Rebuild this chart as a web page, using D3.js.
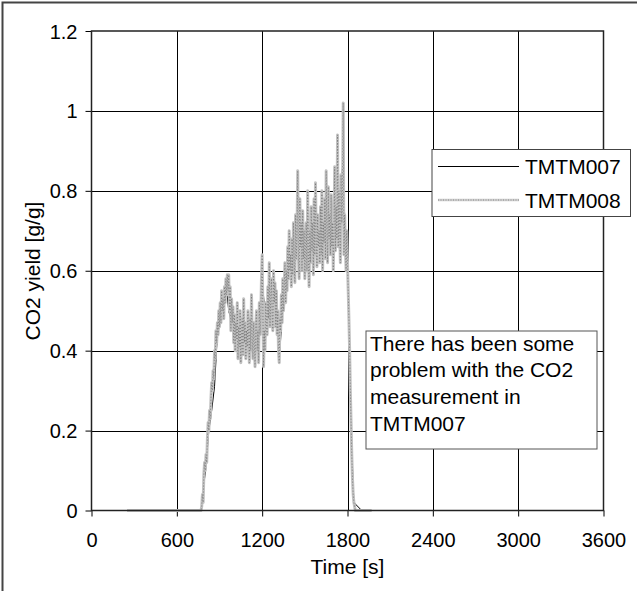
<!DOCTYPE html>
<html>
<head>
<meta charset="utf-8">
<script src="https://cdn.jsdelivr.net/npm/d3@7"></script>
<style>
  html, body { margin: 0; padding: 0; background: #fff; }
  svg { display: block; }
  text { font-family: "Liberation Sans", Arial, sans-serif; fill: #000; }
</style>
</head>
<body>
<svg id="chart" width="637" height="591"></svg>
<script>
// ---- data ----
const xTicks = [0, 600, 1200, 1800, 2400, 3000, 3600];
const yTicks = [0, 0.2, 0.4, 0.6, 0.8, 1.0, 1.2];
const yTickLabels = ["0", "0.2", "0.4", "0.6", "0.8", "1", "1.2"];
const seriesNames = ["TMTM007", "TMTM008"];

const time008 = [250, 400, 600,
  770, 775, 780, 785, 790, 795, 800, 805, 810, 815, 820, 825, 830, 835, 840, 845, 850, 855, 860, 865, 870, 875, 880, 885, 890, 895,
  900, 905, 910, 915, 920, 925, 930, 935, 940, 945, 950, 955, 960, 965, 970, 975, 980, 985, 990, 995, 1000,
  1005, 1010, 1015, 1020, 1025, 1030, 1035, 1040, 1045, 1050, 1055, 1060, 1065, 1070, 1075, 1080, 1085, 1090, 1095, 1100,
  1105, 1110, 1115, 1120, 1125, 1130, 1135, 1140, 1145, 1150, 1155, 1160, 1165, 1170, 1175, 1180, 1185, 1190, 1195, 1200,
  1205, 1210, 1215, 1220, 1225, 1230, 1235, 1240, 1245, 1250, 1255, 1260, 1265, 1270, 1275, 1280, 1285, 1290, 1295, 1300,
  1305, 1310, 1315, 1320, 1325, 1330, 1335, 1340, 1345, 1350, 1355, 1360, 1365, 1370, 1375, 1380, 1385, 1390, 1395, 1400,
  1405, 1410, 1415, 1420, 1425, 1430, 1435, 1440, 1445, 1450, 1455, 1460, 1465, 1470, 1475, 1480, 1485, 1490, 1495, 1500,
  1505, 1510, 1515, 1520, 1525, 1530, 1535, 1540, 1545, 1550, 1555, 1560, 1565, 1570, 1575, 1580, 1585, 1590, 1595, 1600,
  1605, 1610, 1615, 1620, 1625, 1630, 1635, 1640, 1645, 1650, 1655, 1660, 1665, 1670, 1675, 1680, 1685, 1690, 1695, 1700,
  1705, 1710, 1715, 1720, 1725, 1730, 1735, 1740, 1745, 1750, 1755, 1760, 1765, 1770, 1775, 1780, 1785, 1790, 1795, 1800,
  1805, 1810, 1815, 1820, 1825, 1830, 1835, 1840, 1845, 1850, 1855, 1860,
  1970];
const yield008 = [0, 0, 0,
  0, 0.01, 0.04, 0.02, 0.09, 0.12, 0.10, 0.14, 0.12, 0.18, 0.22, 0.20, 0.25, 0.23, 0.28, 0.32, 0.30, 0.35, 0.33, 0.40, 0.38, 0.45, 0.42, 0.47, 0.44, 0.50,
  0.46, 0.52, 0.47, 0.55, 0.50, 0.53, 0.48, 0.56, 0.52, 0.58, 0.54, 0.59, 0.55, 0.59, 0.50, 0.56, 0.45, 0.53, 0.47, 0.51, 0.42,
  0.49, 0.40, 0.47, 0.43, 0.52, 0.38, 0.46, 0.41, 0.50, 0.37, 0.44, 0.48, 0.39, 0.53, 0.42, 0.47, 0.38, 0.45, 0.41, 0.50,
  0.43, 0.37, 0.48, 0.40, 0.54, 0.44, 0.38, 0.47, 0.42, 0.36, 0.46, 0.50, 0.40, 0.45, 0.37, 0.52, 0.44, 0.48, 0.58, 0.64,
  0.50, 0.36, 0.45, 0.40, 0.52, 0.47, 0.44, 0.56, 0.48, 0.62, 0.46, 0.53, 0.58, 0.49, 0.45, 0.60, 0.52, 0.57, 0.46, 0.55,
  0.44, 0.50, 0.40, 0.37, 0.48, 0.45, 0.54, 0.47, 0.58, 0.50, 0.56, 0.62, 0.52, 0.60, 0.55, 0.66, 0.58, 0.70, 0.60, 0.64,
  0.56, 0.68, 0.59, 0.72, 0.62, 0.57, 0.74, 0.63, 0.69, 0.85, 0.64, 0.58, 0.78, 0.66, 0.72, 0.60, 0.75, 0.63, 0.70, 0.58,
  0.66, 0.72, 0.60, 0.80, 0.64, 0.56, 0.70, 0.62, 0.76, 0.65, 0.72, 0.59, 0.78, 0.64, 0.82, 0.68, 0.61, 0.74, 0.66, 0.70,
  0.62, 0.76, 0.64, 0.80, 0.60, 0.72, 0.67, 0.78, 0.63, 0.85, 0.70, 0.62, 0.81, 0.68, 0.74, 0.64, 0.79, 0.66, 0.72, 0.60,
  0.70, 0.86, 0.65, 0.76, 0.68, 0.94, 0.66, 0.80, 0.70, 0.62, 0.84, 0.72, 0.78, 1.02, 0.64, 0.74, 0.66, 0.60, 0.70, 0.62,
  0.55, 0.48, 0.40, 0.30, 0.22, 0.14, 0.08, 0.04, 0.02, 0.01, 0, 0,
  0];

const time007 = [0, 250, 770, 785, 805, 825, 845, 865, 885, 905, 925, 945, 965, 985, 1005, 1025, 1045, 1065, 1085, 1105, 1125, 1145, 1165, 1185, 1205, 1225, 1245, 1265, 1285, 1305, 1325, 1345, 1365, 1385, 1405, 1425, 1445, 1465, 1485, 1505, 1525, 1545, 1565, 1585, 1605, 1625, 1645, 1665, 1685, 1705, 1725, 1745, 1765, 1785, 1805, 1825, 1845, 1900];
const yield007 = [0, 0, 0, 0.05, 0.11, 0.20, 0.25, 0.31, 0.44, 0.47, 0.50, 0.57, 0.50, 0.47, 0.44, 0.45, 0.46, 0.42, 0.46, 0.43, 0.49, 0.42, 0.42, 0.46, 0.56, 0.46, 0.55, 0.54, 0.53, 0.49, 0.40, 0.52, 0.55, 0.62, 0.61, 0.65, 0.73, 0.69, 0.68, 0.66, 0.72, 0.64, 0.69, 0.72, 0.70, 0.72, 0.75, 0.71, 0.71, 0.75, 0.80, 0.76, 0.86, 0.70, 0.56, 0.20, 0.02, 0];

const noteLines = ["There has been some", "problem with the CO2", "measurement in", "TMTM007"];

// ---- layout ----
const svg = d3.select("#chart");
const FS = 20;   // tick labels
const FT = 21;   // titles, legend, note
const x = d3.scaleLinear().domain([0, 3600]).range([91.5, 603.5]);
const y = d3.scaleLinear().domain([0, 1.2]).range([510.5, 31]);

// outer frame
svg.append("path")
  .attr("d", "M2.5,591 L2.5,2.5 L637,2.5")
  .attr("fill", "none").attr("stroke", "#444").attr("stroke-width", 2);

// gridlines
const g = svg.append("g");
g.selectAll("line.vg").data(xTicks.slice(1, -1)).join("line")
  .attr("x1", d => Math.round(x(d)) + 0.5).attr("x2", d => Math.round(x(d)) + 0.5)
  .attr("y1", y(1.2)).attr("y2", y(0))
  .attr("stroke", "#000").attr("stroke-width", 1);
g.selectAll("line.hg").data(yTicks.slice(1, -1)).join("line")
  .attr("y1", d => Math.round(y(d)) + 0.5).attr("y2", d => Math.round(y(d)) + 0.5)
  .attr("x1", x(0)).attr("x2", x(3600))
  .attr("stroke", "#000").attr("stroke-width", 1);

// axes
const xAxis = d3.axisBottom(x).tickValues(xTicks).tickSize(6).tickSizeOuter(0).tickFormat(d3.format("d"));
const yAxis = d3.axisLeft(y).tickValues(yTicks).tickSize(6).tickSizeOuter(0)
  .tickFormat((d, i) => yTickLabels[i]);

const gx = svg.append("g").attr("transform", `translate(0,${y(0)})`).call(xAxis);
gx.select(".domain").remove();
gx.selectAll("line").attr("stroke", "#000");
gx.selectAll("text").attr("font-size", FS).attr("dy", null).attr("y", 36)
  .attr("font-family", "Liberation Sans, Arial, sans-serif");

const gy = svg.append("g").attr("transform", `translate(${x(0)},0)`).call(yAxis);
gy.select(".domain").remove();
gy.selectAll("line").attr("stroke", "#000");
gy.selectAll("text").attr("font-size", FS).attr("x", -14).attr("dy", "0.35em")
  .attr("font-family", "Liberation Sans, Arial, sans-serif");

// series
const line = d3.line().x(d => x(d[0])).y(d => y(d[1]));
const n7 = Math.min(time007.length, yield007.length);
const n8 = Math.min(time008.length, yield008.length);
const d007 = time007.slice(0, n7).map((t, i) => [t, yield007[i]]);
const d008 = time008.slice(0, n8).map((t, i) => [t, yield008[i]]);

svg.append("path").datum(d007).attr("d", line)
  .attr("fill", "none").attr("stroke", "#000").attr("stroke-width", 1);
svg.append("path").datum(d008).attr("d", line)
  .attr("fill", "none").attr("stroke", "#c2c2c2").attr("stroke-width", 3)
  .attr("stroke-linejoin", "round");
svg.append("path").datum(d008).attr("d", line)
  .attr("fill", "none").attr("stroke", "#7a7a7a").attr("stroke-width", 1)
  .attr("stroke-dasharray", "1,2");

// plot border
svg.append("rect")
  .attr("x", x(0)).attr("y", y(1.2))
  .attr("width", x(3600) - x(0)).attr("height", y(0) - y(1.2))
  .attr("fill", "none").attr("stroke", "#222").attr("stroke-width", 1.5);

// axis titles
svg.append("text").attr("x", 347.5).attr("y", 574).attr("text-anchor", "middle")
  .attr("font-size", FT).text("Time [s]");
svg.append("text").attr("transform", "translate(40,271) rotate(-90)")
  .attr("text-anchor", "middle").attr("font-size", FT).text("CO2 yield [g/g]");

// legend
const lg = svg.append("g");
lg.append("rect").attr("x", 432).attr("y", 149.5).attr("width", 198.5).attr("height", 67)
  .attr("fill", "#fff").attr("stroke", "#444").attr("stroke-width", 1);
lg.append("line").attr("x1", 438).attr("x2", 519).attr("y1", 166.5).attr("y2", 166.5)
  .attr("stroke", "#000").attr("stroke-width", 1);
lg.append("line").attr("x1", 438).attr("x2", 519).attr("y1", 200).attr("y2", 200)
  .attr("stroke", "#cfcfcf").attr("stroke-width", 2.5);
lg.append("line").attr("x1", 438).attr("x2", 519).attr("y1", 200).attr("y2", 200)
  .attr("stroke", "#8a8a8a").attr("stroke-width", 1).attr("stroke-dasharray", "1,1.5");
lg.selectAll("text.leg").data(seriesNames).join("text")
  .attr("x", 525).attr("y", (d, i) => 174 + i * 33.5)
  .attr("font-size", FT).text(d => d);

// annotation
svg.append("rect").attr("x", 366).attr("y", 331).attr("width", 231).attr("height", 118)
  .attr("fill", "#fff").attr("stroke", "#555").attr("stroke-width", 1);
svg.selectAll("text.note").data(noteLines).join("text")
  .attr("x", 370).attr("y", (d, i) => 350.5 + i * 26.7)
  .attr("font-size", FT).text(d => d);
</script>
</body>
</html>
